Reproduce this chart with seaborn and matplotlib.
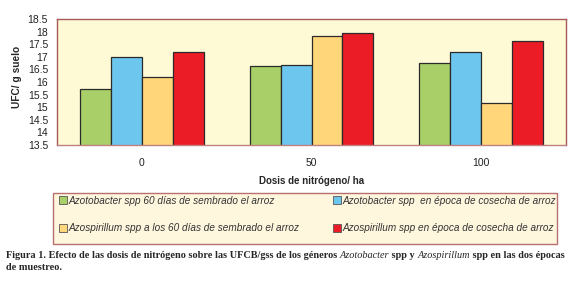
import matplotlib
matplotlib.use("Agg")
import matplotlib.pyplot as plt
import seaborn as sns
import pandas as pd
import numpy as np
from matplotlib.patches import Patch, Rectangle

dosis = ["0", "50", "100"]
series = [
    "Azotobacter spp 60 días de sembrado el arroz",
    "Azotobacter spp  en época de cosecha de arroz",
    "Azospirillum spp a los 60 días de sembrado el arroz",
    "Azospirillum spp en época de cosecha de arroz",
]
azoto_60 = [15.73, 16.65, 16.75]
azoto_cosecha = [16.98, 16.69, 17.20]
azospi_60 = [16.21, 17.84, 15.17]
azospi_cosecha = [17.18, 17.93, 17.64]
colors = ["#A8CF68", "#6CC6EE", "#FFD67A", "#EC1C26"]
yticks = [13.5, 14, 14.5, 15, 15.5, 16, 16.5, 17, 17.5, 18, 18.5]

rows = []
for s, vals in zip(series, [azoto_60, azoto_cosecha, azospi_60, azospi_cosecha]):
    for d, v in zip(dosis, vals):
        rows.append({"dosis": d, "serie": s, "ufc": v})
df = pd.DataFrame(rows)

sns.set_style("white")
plt.rcParams["font.family"] = ["Liberation Sans", "DejaVu Sans"]

fig = plt.figure(figsize=(5.76, 2.82), dpi=100)
ax = fig.add_axes([57/576, 1-145/282, (566-57)/576, (145-19)/282])
ax.set_facecolor("#FFFAD6")

sns.barplot(data=df, x="dosis", y="ufc", hue="serie", order=dosis, hue_order=series,
            palette=colors, width=0.73, gap=0, edgecolor="#2a2a2a", linewidth=0.9,
            legend=False, ax=ax, saturation=1)

ax.set_ylim(13.5, 18.5)
ax.set_yticks(yticks)
ax.set_yticklabels([f"{t:g}" for t in yticks], fontsize=7.5, color="#222222")
ax.set_xlim(-0.5, 2.5)
ax.set_xticks([0, 1, 2])
ax.set_xticklabels(dosis, fontsize=7.5, color="#222222")
ax.set_xticks([0.5, 1.5, 2.5], minor=True)
ax.tick_params(axis="x", which="major", length=0, pad=9)
ax.tick_params(axis="x", which="minor", length=3, color="#8a8a8a", width=0.8, direction="out")
ax.tick_params(axis="y", length=3, color="#A05050", width=0.9, direction="out", pad=3.5)

for side in ["left", "top", "right", "bottom"]:
    ax.spines[side].set_color("#A85A5A")
    ax.spines[side].set_linewidth(1.0)
ax.spines["bottom"].set_color("#C08080")

ax.set_ylabel("UFC/ g suelo", fontsize=7.3, fontweight="bold")
ax.yaxis.set_label_coords(-0.069, 0.54)
ax.set_xlabel("Dosis de nitrógeno/ ha", fontsize=7.0, fontweight="bold", labelpad=6)

# Legend box
lx0, lx1, ly0, ly1 = 53/576, 557/576, 1-244/282, 1-193/282
fig.patches.append(Rectangle((lx0, ly0), lx1-lx0, ly1-ly0, transform=fig.transFigure,
                             facecolor="#FFF6DE", edgecolor="#B87070", lw=1.0, zorder=0))
handles = [Patch(facecolor=c, edgecolor="#555555", lw=0.6) for c in colors]
order = [0, 2, 1, 3]
leg = fig.legend([handles[i] for i in order], [series[i] for i in order], ncol=2,
                 loc="center left", bbox_to_anchor=(59/576, 1-214.5/282),
                 frameon=False, prop={"style": "italic", "size": 7.2},
                 handlelength=0.8, handleheight=0.8, handletextpad=0.2,
                 columnspacing=3.3, labelspacing=1.75, borderaxespad=0, borderpad=0)
for t in leg.get_texts():
    t.set_color("#333333")

# Caption with mixed styles
pieces1 = [
    ("Figura 1. Efecto de las dosis de nitrógeno sobre las UFCB/gss de los géneros ", "bold", "normal"),
    ("Azotobacter", "normal", "italic"),
    (" spp y ", "bold", "normal"),
    ("Azospirillum", "normal", "italic"),
    (" spp en las dos épocas", "bold", "normal"),
]
fig.canvas.draw()
renderer = fig.canvas.get_renderer()
x = 6/576
y1 = 1-255/282
for txt, w, st in pieces1:
    t = fig.text(x, y1, txt, fontsize=7.4, fontweight=w, style=st,
                 family=["Liberation Serif", "DejaVu Serif"], va="center", ha="left")
    bb = t.get_window_extent(renderer=renderer)
    x += bb.width / fig.bbox.width
fig.text(6/576, 1-267/282, "de muestreo.", fontsize=7.4, fontweight="bold",
         family=["Liberation Serif", "DejaVu Serif"], va="center", ha="left")

fig.savefig("out.png", dpi=100)
